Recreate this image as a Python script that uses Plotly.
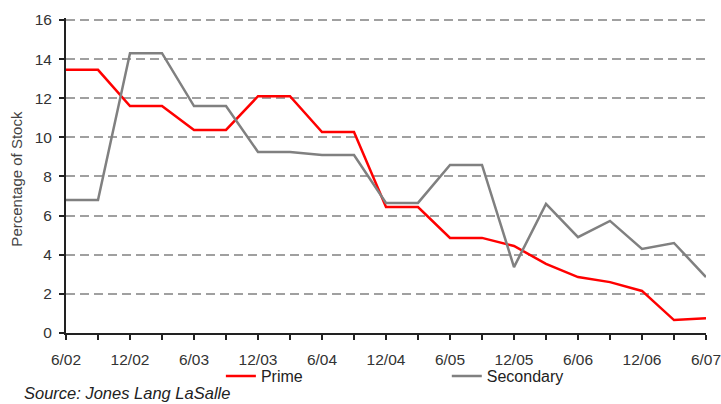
import plotly.graph_objects as go

# Quarter-end dates, June 2002 to June 2007
quarters = ["6/02", "9/02", "12/02", "3/03", "6/03", "9/03", "12/03", "3/04",
            "6/04", "9/04", "12/04", "3/05", "6/05", "9/05", "12/05", "3/06",
            "6/06", "9/06", "12/06", "3/07", "6/07"]

prime = [13.45, 13.45, 11.6, 11.6, 10.38, 10.38, 12.1, 12.1, 10.27, 10.27,
         6.44, 6.44, 4.86, 4.86, 4.45, 3.53, 2.86, 2.6, 2.15, 0.66, 0.75]

secondary = [6.8, 6.8, 14.3, 14.3, 11.6, 11.6, 9.25, 9.25, 9.1, 9.1,
             6.65, 6.65, 8.59, 8.59, 3.37, 6.6, 4.9, 5.73, 4.3, 4.6, 2.86]

y_ticks = [0, 2, 4, 6, 8, 10, 12, 14, 16]

x_idx = list(range(len(quarters)))
tick_text = [q if i % 2 == 0 else "" for i, q in enumerate(quarters)]

FONT = "Liberation Sans, Arial, sans-serif"
LEGEND_FONT = dict(family=FONT, size=16, color="#222222")
TICK_FONT = dict(family=FONT, size=15.5, color="#333333")

fig = go.Figure()
fig.add_trace(go.Scatter(x=x_idx, y=prime, mode="lines", name="Prime",
                         line=dict(color="#ff0000", width=2.5), legend="legend"))
fig.add_trace(go.Scatter(x=x_idx, y=secondary, mode="lines", name="Secondary",
                         line=dict(color="#808080", width=2.5), legend="legend2"))

fig.update_layout(
    width=721, height=404,
    margin=dict(l=66, r=15, t=18, b=71, autoexpand=False),
    paper_bgcolor="white", plot_bgcolor="white",
    font=dict(family=FONT, size=12, color="#333333"),
    showlegend=True,
    legend=dict(x=0.242, xanchor="left", y=-0.137, yanchor="middle",
                font=LEGEND_FONT, bgcolor="rgba(0,0,0,0)", itemwidth=30),
    legend2=dict(x=0.595, xanchor="left", y=-0.137, yanchor="middle",
                 font=LEGEND_FONT, bgcolor="rgba(0,0,0,0)", itemwidth=30),
    xaxis=dict(range=[0, 20], tickmode="array", tickvals=x_idx, ticktext=tick_text,
               showgrid=False, zeroline=False, showline=True, linecolor="#222222",
               linewidth=2, ticks="outside", ticklen=5, tickcolor="#222222",
               tickwidth=1.5, ticklabelstandoff=6, ticklabeloverflow="allow",
               tickfont=TICK_FONT),
    yaxis=dict(range=[0, 16.1], tickmode="array", tickvals=y_ticks,
               showgrid=True, gridcolor="#a0a0a0", griddash="9px,5px", gridwidth=1.5,
               zeroline=False, showline=True, linecolor="#222222", linewidth=2,
               ticks="outside", ticklen=5, tickcolor="#222222", tickwidth=1.5,
               ticklabelstandoff=4, tickfont=TICK_FONT),
    annotations=[
        dict(text="Percentage of Stock", xref="paper", yref="paper",
             x=-0.0766, y=0.49, xanchor="center", yanchor="middle", textangle=-90,
             showarrow=False, font=dict(family=FONT, size=15, color="#444444")),
        dict(text="<i>Source: Jones Lang LaSalle</i>", xref="paper", yref="paper",
             x=-0.069, y=-0.189, xanchor="left", yanchor="middle",
             showarrow=False, font=dict(family=FONT, size=16.5, color="#222222")),
    ],
)

fig.write_html("out.html")
